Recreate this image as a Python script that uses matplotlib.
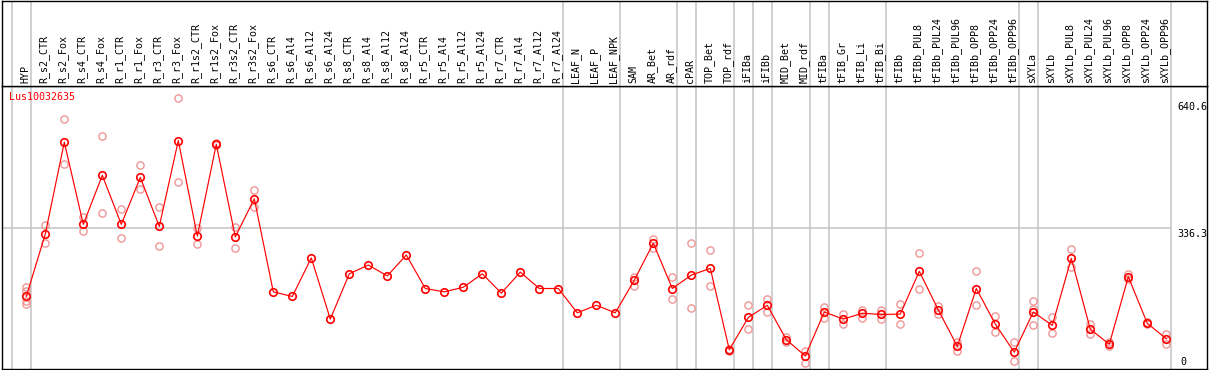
import matplotlib
matplotlib.use("Agg")
import matplotlib.pyplot as plt
import matplotlib.transforms as mtransforms

labels = ["HYP", "R_s2_CTR", "R_s2_Fox", "R_s4_CTR", "R_s4_Fox", "R_r1_CTR", "R_r1_Fox",
          "R_r3_CTR", "R_r3_Fox", "R_r1s2_CTR", "R_r1s2_Fox", "R_r3s2_CTR", "R_r3s2_Fox",
          "R_s6_CTR", "R_s6_Al4", "R_s6_Al12", "R_s6_Al24", "R_s8_CTR", "R_s8_Al4",
          "R_s8_Al12", "R_s8_Al24", "R_r5_CTR", "R_r5_Al4", "R_r5_Al12", "R_r5_Al24",
          "R_r7_CTR", "R_r7_Al4", "R_r7_Al12", "R_r7_Al24", "LEAF_N", "LEAF_P", "LEAF_NPK",
          "SAM", "AR_Bet", "AR_rdf", "cPAR", "TOP_Bet", "TOP_rdf", "iFIBa", "iFIBb",
          "MID_Bet", "MID_rdf", "tFIBa", "tFIB_Gr", "tFIB_Li", "tFIB_Bi", "tFIBb",
          "tFIBb_PUL8", "tFIBb_PUL24", "tFIBb_PUL96", "tFIBb_OPP8", "tFIBb_OPP24",
          "tFIBb_OPP96", "sXYLa", "sXYLb", "sXYLb_PUL8", "sXYLb_PUL24", "sXYLb_PUL96",
          "sXYLb_OPP8", "sXYLb_OPP24", "sXYLb_OPP96"]

means = [173, 322, 541, 345, 462, 345, 457, 340, 545, 317, 536, 315, 406,
         184, 173, 265, 119, 227, 248, 222, 272, 192, 184, 195, 227, 181, 231, 192, 192,
         134, 152, 134, 212, 300, 192, 224, 240, 46, 123, 152, 70, 31, 136, 119, 133,
         130, 131, 233, 141, 54, 192, 107, 40, 136, 104, 264, 95, 59, 220, 109, 72]

replicates = [[196, 186, 163, 155], [343, 300], [596, 488], [363, 328], [555, 371],
              [381, 312], [486, 429], [386, 293], [646, 445], [337, 297], [538, 534],
              [339, 288], [427, 386],
              [], [], [], [], [], [], [], [], [], [], [], [], [], [], [], [], [], [], [],
              [220, 198], [309, 289], [219, 166], [300, 145], [283, 198], [48, 42],
              [153, 95], [167, 135], [77, 65], [43, 15], [148, 121], [131, 107],
              [141, 121], [141, 119], [154, 107], [276, 190], [151, 130], [65, 44],
              [233, 152], [126, 88], [64, 18], [162, 142, 104], [123, 85], [286, 244],
              [107, 84], [64, 55], [226, 215], [112, 107], [83, 60]]

# group separators: drawn just after these category indices
separators = [-1, 0, 28, 31, 34, 35, 37, 38, 39, 41, 42, 45, 52, 53, 60]
gene_name = "Lus10032635"
ytick_values = [640.6, 336.3, 0]
grid_value = 336.3

W, H = 1209, 370
fig = plt.figure(figsize=(W / 100, H / 100), dpi=100)
FONT = "DejaVu Sans Mono"
FS = 7.2
GRAY = "#c4c4c4"
RED = "#ff0000"
PINK = "#f09696"

x_left = (2 - 26.3) / 19
x_right = (1207 - 26.3) / 19

ax = fig.add_axes([2 / W, 1 / H, 1205 / W, 283 / H])
ax_top = fig.add_axes([2 / W, 284 / H, 1205 / W, 85.5 / H])
for a in (ax, ax_top):
    a.set_xlim(x_left, x_right)
    a.set_xticks([])
    a.set_yticks([])
    for s in a.spines.values():
        s.set_color("black")
        s.set_linewidth(1.0)
ax.set_ylim(0, 675)
ax_top.set_ylim(0, 85.5)

sep_x = [s + 0.23 for s in separators]
for sx in sep_x:
    ax.axvline(sx, color=GRAY, lw=1.1, zorder=1)
    ax_top.axvline(sx, color=GRAY, lw=1.1, zorder=1)

x_grid_end = (separators[-1] + 0.23 - x_left) / (x_right - x_left)
ax.axhline(grid_value, xmin=0, xmax=x_grid_end, color=GRAY, lw=1.1, zorder=1)

xs = list(range(len(labels)))
# replicates
for i, reps in enumerate(replicates):
    if reps:
        ax.plot([i] * len(reps), reps, linestyle="none", marker="o", markersize=5.2,
                markerfacecolor="none", markeredgecolor=PINK, markeredgewidth=1.0, zorder=2)
ax.plot(xs, means, color=RED, lw=0.85, marker="o", markersize=5.4,
        markerfacecolor="none", markeredgecolor=RED, markeredgewidth=1.2, zorder=3)

# category labels
for i, lab in enumerate(labels):
    ax_top.text(i - 0.07, 3, lab, rotation=90, ha="center", va="bottom",
                fontsize=FS, family=FONT, color="black")

# gene name
ax.text(7.3 / 1205, 1 - 6 / 283, gene_name, transform=ax.transAxes, ha="left", va="top",
        fontsize=FS, family=FONT, color=RED)

# right-side value labels
tr = mtransforms.blended_transform_factory(ax.transAxes, ax.transData)
xlab = (1177 - 2) / 1205
for v in ytick_values:
    if v == 0:
        ax.text(xlab + 3 / 1205, 4, "0", transform=tr, ha="left", va="bottom",
                fontsize=FS, family=FONT, color="black")
    else:
        ax.text(xlab, v - 3, f"{v:.1f}", transform=tr, ha="left", va="top",
                fontsize=FS, family=FONT, color="black", clip_on=False)

fig.savefig("out.png", dpi=100)
